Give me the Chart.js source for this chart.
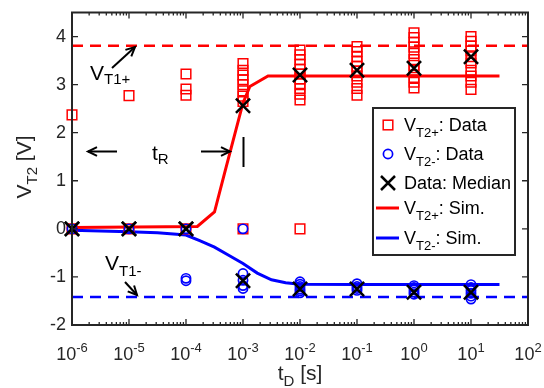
<!DOCTYPE html>
<html><head><meta charset="utf-8">
<script src="https://cdn.jsdelivr.net/npm/chart.js@4/dist/chart.umd.min.js"></script>
<style>html,body{margin:0;padding:0;background:#fff}#wrap{width:544px;height:388px}</style>
</head><body><div id="wrap"><canvas id="c" width="544" height="388"></canvas></div>
<script>
// ---- data ----
const decades = [1e-6, 1e-5, 1e-4, 1e-3, 1e-2, 1e-1, 1e0, 1e1];
const xTickExps = [-6, -5, -4, -3, -2, -1, 0, 1, 2];
const yTicks = [-2, -1, 0, 1, 2, 3, 4];
const vt2PlusData = [
  [2.37, 0],
  [2.77, 0],
  [3.22, 2.91, 2.78, 0],
  [3.44, 3.30, 3.20, 3.10, 3.00, 2.87, 2.76, 2.65, 0],
  [3.72, 3.62, 3.52, 3.42, 3.32, 3.22, 3.12, 3.02, 2.92, 2.80, 2.68, 0],
  [3.79, 3.69, 3.58, 3.48, 3.38, 3.28, 3.18, 3.05, 2.92, 2.78],
  [4.08, 3.98, 3.88, 3.78, 3.65, 3.52, 3.40, 3.30, 3.15, 3.05, 2.93],
  [4.00, 3.90, 3.80, 3.70, 3.58, 3.45, 3.30, 3.18, 3.05, 2.90]
];
const vt2MinusData = [
  [0],
  [0],
  [0, -1.03, -1.08],
  [0, -0.93, -1.07, -1.18, -1.24],
  [-1.10, -1.15, -1.20, -1.25, -1.29, -1.33],
  [-1.14, -1.20, -1.24, -1.28],
  [-1.18, -1.22, -1.27, -1.32, -1.36],
  [-1.16, -1.22, -1.28, -1.34, -1.40, -1.46]
];
const medianPlus = [0, 0, 0, 2.56, 3.20, 3.30, 3.34, 3.58];
const medianMinus = [0, 0, 0, -1.08, -1.25, -1.25, -1.32, -1.32];
const simPlusT = [1e-6, 1.58e-4, 3.16e-4, 4.8e-4, 1e-3, 1.32e-3, 2.75e-3, 31.6];
const simPlusV = [0.03, 0.05, 0.35, 1.18, 2.62, 2.96, 3.18, 3.18];
const simMinusT = [1e-6, 1e-5, 3.16e-5, 1e-4, 1.78e-4, 3.16e-4, 5.6e-4, 1e-3, 1.78e-3, 3.16e-3, 5.6e-3, 1e-2, 1e-1, 31.6];
const simMinusV = [-0.03, -0.06, -0.08, -0.13, -0.25, -0.38, -0.55, -0.72, -0.92, -1.06, -1.12, -1.15, -1.16, -1.16];
const vt1Plus = 3.81;
const vt1Minus = -1.42;
const xRange = [1e-6, 1e2];
const yRange = [-2, 4.5];

// ---- build ----
const RED = '#ff0000', BLUE = '#0000ff', AX = '#262626';
const FONT = "'Liberation Sans', Arial, Helvetica, sans-serif";
function scatterFrom(groups) {
  const out = [];
  groups.forEach((g, i) => g.forEach(v => out.push({x: decades[i], y: v})));
  return out;
}
const pairs = (xs, ys) => xs.map((x, i) => ({x, y: ys[i]}));

const datasets = [
  {label: 'medPlus', data: pairs(decades, medianPlus), pointStyle: 'crossRot', pointRadius: 10, borderWidth: 2.5, borderColor: '#000', pointBorderColor: '#000', order: 0, clip: false},
  {label: 'medMinus', data: pairs(decades, medianMinus), pointStyle: 'crossRot', pointRadius: 10, borderWidth: 2.5, borderColor: '#000', pointBorderColor: '#000', order: 0, clip: false},
  {label: 'minusData', data: scatterFrom(vt2MinusData), pointStyle: 'circle', pointRadius: 4.6, borderWidth: 1.7, borderColor: BLUE, pointBorderColor: BLUE, pointBackgroundColor: 'rgba(0,0,0,0)', order: 1, clip: false},
  {label: 'plusData', data: scatterFrom(vt2PlusData), pointStyle: 'rect', pointRadius: 6.8, borderWidth: 1.5, borderColor: RED, pointBorderColor: RED, pointBackgroundColor: 'rgba(0,0,0,0)', order: 2, clip: false},
  {label: 'simPlus', data: pairs(simPlusT, simPlusV), showLine: true, borderColor: RED, borderWidth: 3, pointRadius: 0, order: 3},
  {label: 'simMinus', data: pairs(simMinusT, simMinusV), showLine: true, borderColor: BLUE, borderWidth: 3, pointRadius: 0, order: 4},
  {label: 'vt1p', data: pairs(xRange, [vt1Plus, vt1Plus]), showLine: true, borderColor: RED, borderWidth: 2.5, borderDash: [11, 7], pointRadius: 0, order: 5},
  {label: 'vt1m', data: pairs(xRange, [vt1Minus, vt1Minus]), showLine: true, borderColor: BLUE, borderWidth: 2.5, borderDash: [11, 7], pointRadius: 0, order: 6}
];

function txt(ctx, x, y, parts) {
  let w = 0;
  parts.forEach(p => { ctx.font = p[1] + 'px ' + FONT; ctx.fillText(p[0], x + w, y + (p[2] || 0)); w += ctx.measureText(p[0]).width; });
  return w;
}
function measure(ctx, parts) {
  let w = 0;
  parts.forEach(p => { ctx.font = p[1] + 'px ' + FONT; w += ctx.measureText(p[0]).width; });
  return w;
}
function arrow(ctx, x1, y1, x2, y2) {
  ctx.beginPath(); ctx.moveTo(x1, y1); ctx.lineTo(x2, y2); ctx.stroke();
  const a = Math.atan2(y2 - y1, x2 - x1), L = 10, s = 0.45;
  ctx.beginPath();
  ctx.moveTo(x2 - L * Math.cos(a - s), y2 - L * Math.sin(a - s));
  ctx.lineTo(x2, y2);
  ctx.lineTo(x2 - L * Math.cos(a + s), y2 - L * Math.sin(a + s));
  ctx.stroke();
}

const decor = {
  id: 'decor',
  afterDraw(chart) {
    const ctx = chart.ctx, xs = chart.scales.x, ys = chart.scales.y, ca = chart.chartArea;
    ctx.save();
    ctx.strokeStyle = AX; ctx.fillStyle = AX; ctx.lineWidth = 1.3;
    ctx.beginPath();
    for (let e = -6; e <= 2; e++) {
      const px = xs.getPixelForValue(Math.pow(10, e));
      ctx.moveTo(px, ca.bottom); ctx.lineTo(px, ca.bottom - 6);
      ctx.moveTo(px, ca.top); ctx.lineTo(px, ca.top + 6);
      if (e < 2) for (let m = 2; m <= 9; m++) {
        const pm = xs.getPixelForValue(m * Math.pow(10, e));
        ctx.moveTo(pm, ca.bottom); ctx.lineTo(pm, ca.bottom - 3);
        ctx.moveTo(pm, ca.top); ctx.lineTo(pm, ca.top + 3);
      }
    }
    yTicks.forEach(v => {
      const py = ys.getPixelForValue(v);
      ctx.moveTo(ca.left, py); ctx.lineTo(ca.left + 6, py);
      ctx.moveTo(ca.right, py); ctx.lineTo(ca.right - 6, py);
    });
    ctx.stroke();
    ctx.lineWidth = 2;
    ctx.strokeRect(ca.left, ca.top, ca.right - ca.left, ca.bottom - ca.top);
    ctx.textBaseline = 'alphabetic'; ctx.textAlign = 'left';
    xTickExps.forEach(e => {
      const px = xs.getPixelForValue(Math.pow(10, e));
      const parts = [['10', 18, 0], [String(e), 13, -8]];
      const w = measure(ctx, parts);
      txt(ctx, px - w / 2, 360, parts);
    });
    ctx.textAlign = 'right'; ctx.textBaseline = 'middle'; ctx.font = '18px ' + FONT;
    yTicks.forEach(v => ctx.fillText(String(v), ca.left - 6, ys.getPixelForValue(v)));
    ctx.textAlign = 'left'; ctx.textBaseline = 'alphabetic';
    const xt = [['t', 21, 0], ['D', 15, 6], [' [s]', 21, 0]];
    txt(ctx, 300 - measure(ctx, xt) / 2, 380, xt);
    ctx.save(); ctx.translate(31, 167); ctx.rotate(-Math.PI / 2);
    const yt = [['V', 21, 0], ['T2', 15, 6], [' [V]', 21, 0]];
    txt(ctx, -measure(ctx, yt) / 2, 0, yt);
    ctx.restore();
    ctx.fillStyle = '#000'; ctx.strokeStyle = '#000'; ctx.lineWidth = 2;
    txt(ctx, 90, 80, [['V', 21, 0], ['T1+', 15, 4]]);
    txt(ctx, 105, 270, [['V', 21, 0], ['T1-', 15, 6]]);
    txt(ctx, 152, 160, [['t', 21, 0], ['R', 15, 4]]);
    arrow(ctx, 112, 68, 135, 47);
    arrow(ctx, 125, 282, 137, 295);
    arrow(ctx, 117, 151.5, 88, 151.5);
    arrow(ctx, 201, 151.5, 230, 151.5);
    ctx.beginPath(); ctx.moveTo(243.5, 137); ctx.lineTo(243.5, 167); ctx.stroke();
    ctx.fillStyle = '#fff'; ctx.fillRect(373, 108, 142, 147);
    ctx.strokeStyle = AX; ctx.lineWidth = 2; ctx.strokeRect(373, 108, 142, 147);
    const sx = 388, tx = 404;
    ctx.strokeStyle = RED; ctx.lineWidth = 1.5; ctx.strokeRect(sx - 4.8, 125 - 4.8, 9.6, 9.6);
    ctx.strokeStyle = BLUE; ctx.lineWidth = 1.7; ctx.beginPath(); ctx.arc(sx, 154, 4.6, 0, Math.PI * 2); ctx.stroke();
    ctx.strokeStyle = '#000'; ctx.lineWidth = 2.5; ctx.beginPath();
    ctx.moveTo(sx - 7, 183 - 7); ctx.lineTo(sx + 7, 183 + 7); ctx.moveTo(sx - 7, 183 + 7); ctx.lineTo(sx + 7, 183 - 7); ctx.stroke();
    ctx.lineWidth = 3; ctx.strokeStyle = RED; ctx.beginPath(); ctx.moveTo(376, 208); ctx.lineTo(399, 208); ctx.stroke();
    ctx.strokeStyle = BLUE; ctx.beginPath(); ctx.moveTo(376, 238); ctx.lineTo(399, 238); ctx.stroke();
    ctx.fillStyle = '#000';
    txt(ctx, tx, 131, [['V', 18, 0], ['T2+', 13, 6], [': Data', 18, 0]]);
    txt(ctx, tx, 160, [['V', 18, 0], ['T2-', 13, 6], [': Data', 18, 0]]);
    txt(ctx, tx, 189, [['Data: Median', 18, 0]]);
    txt(ctx, tx, 214, [['V', 18, 0], ['T2+', 13, 6], [': Sim.', 18, 0]]);
    txt(ctx, tx, 244, [['V', 18, 0], ['T2-', 13, 6], [': Sim.', 18, 0]]);
    ctx.restore();
  }
};

new Chart(document.getElementById('c'), {
  type: 'scatter',
  data: {datasets},
  options: {
    responsive: false, animation: false, devicePixelRatio: 1,
    layout: {padding: {left: 72, top: 9, right: 16, bottom: 63}},
    plugins: {legend: {display: false}, tooltip: {enabled: false}},
    scales: {
      x: {type: 'logarithmic', min: xRange[0], max: xRange[1], display: false},
      y: {type: 'linear', min: yRange[0], max: yRange[1], display: false}
    }
  },
  plugins: [decor]
});
</script></body></html>
